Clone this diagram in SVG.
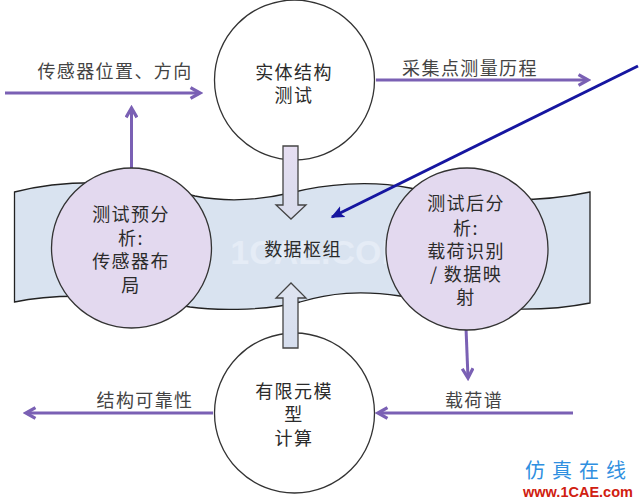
<svg xmlns="http://www.w3.org/2000/svg" width="640" height="499" viewBox="0 0 640 499">
<style>
text{font-family:"Noto Sans CJK SC","Liberation Sans",sans-serif;text-anchor:middle;fill:#2b2b2b;font-size:18px;letter-spacing:1.4px}
.lab{fill:#444}
.node{stroke:#333;stroke-width:1.3}
.white{fill:#fff}
.purple{fill:#e3d9ef}
.conn{fill:none;stroke:#7a60b4;stroke-width:3}
.block{stroke:#444;stroke-width:1.3}
</style>
<defs>
<marker id="a" viewBox="0 0 10 10" refX="8" refY="5" markerWidth="4.5" markerHeight="4.5" orient="auto"><path d="M1 1L8 5L1 9" fill="none" stroke="#7a60b4" stroke-width="2.4"/></marker>
<marker id="b" viewBox="0 0 10 10" refX="8" refY="5" markerWidth="5" markerHeight="5" orient="auto"><path d="M0 1L9 5L0 9L2 5Z" fill="#1616a0"/></marker>
<linearGradient id="up" x1="0" y1="0" x2="0" y2="1"><stop offset="0" stop-color="#e6def2"/><stop offset="1" stop-color="#d8dcec"/></linearGradient>
<linearGradient id="dn" x1="0" y1="0" x2="0" y2="1"><stop offset="0" stop-color="#dfe4f0"/><stop offset="1" stop-color="#d6deee"/></linearGradient>
</defs>
<rect width="640" height="499" fill="#fff"/>
<g id="band"><path d="M14.5 192C60 180 130 178 195 196C230 203 260 200 290 193C325 184 370 180 410 188C460 200 530 205 590 192L590 303C530 315 470 308 400 296C360 290 330 293 300 302C260 312 210 310 190 307C130 296 60 292 14.5 302Z" fill="#d9e3f0" stroke="#222" stroke-width="1.3"/></g>
<text x="320" y="264" style="fill:#e5ecf6;font-size:34px;font-weight:700;letter-spacing:0;font-family:'Liberation Sans',sans-serif">1CAE.COM</text>
<g id="connectors">
<path class="conn" d="M5 93H200" marker-end="url(#a)"/>
<path class="conn" d="M131.5 169V108" marker-end="url(#a)"/>
<path class="conn" d="M376 80H588" marker-end="url(#a)"/>
<path class="conn" d="M466 328L468 378" marker-end="url(#a)"/>
<path class="conn" d="M573 413H378" marker-end="url(#a)"/>
<path class="conn" d="M213 413H26" marker-end="url(#a)"/>
</g>
<g id="node-top"><circle class="node white" cx="294.5" cy="80" r="80"/><text y="79"><tspan x="294">实体结构</tspan><tspan x="294" dy="23">测试</tspan></text></g>
<g id="node-left"><circle class="node purple" cx="131.5" cy="248" r="80"/><text y="221"><tspan x="131">测试预分</tspan><tspan x="131" dy="24">析:</tspan><tspan x="131" dy="23">传感器布</tspan><tspan x="131" dy="24">局</tspan></text></g>
<g id="node-right"><circle class="node purple" cx="467" cy="249" r="81"/><text y="210"><tspan x="466">测试后分</tspan><tspan x="466" dy="25">析:</tspan><tspan x="466" dy="23">载荷识别</tspan><tspan x="466" dy="23">/ 数据映</tspan><tspan x="466" dy="23">射</tspan></text></g>
<g id="node-bottom"><circle class="node white" cx="294.5" cy="413" r="80"/><text y="398"><tspan x="294">有限元模</tspan><tspan x="294" dy="23">型</tspan><tspan x="294" dy="24">计算</tspan></text></g>
<g id="node-center"><text x="303" y="256">数据枢组</text></g>
<g id="block-arrows">
<path class="block" fill="url(#up)" d="M283 146H298V205H306L291 219L276 205H283Z"/>
<path class="block" fill="url(#dn)" d="M283 348H298V298H306L291 283L276 298H283Z"/>
</g>
<path id="blue-arrow" d="M638 66L332 217" fill="none" stroke="#1616a0" stroke-width="3" marker-end="url(#b)"/>
<text class="lab" x="115" y="78">传感器位置、方向</text>
<text class="lab" x="470" y="75">采集点测量历程</text>
<text class="lab" x="145" y="407">结构可靠性</text>
<text class="lab" x="474" y="407">载荷谱</text>
<text x="579" y="478" style="fill:#2f8fe0;font-size:20px;letter-spacing:7px">仿真在线</text>
<text x="578" y="497" style="fill:#d02010;font-size:14.5px;font-weight:700;letter-spacing:0;font-family:'Liberation Sans',sans-serif">www.1CAE.com</text>
</svg>
